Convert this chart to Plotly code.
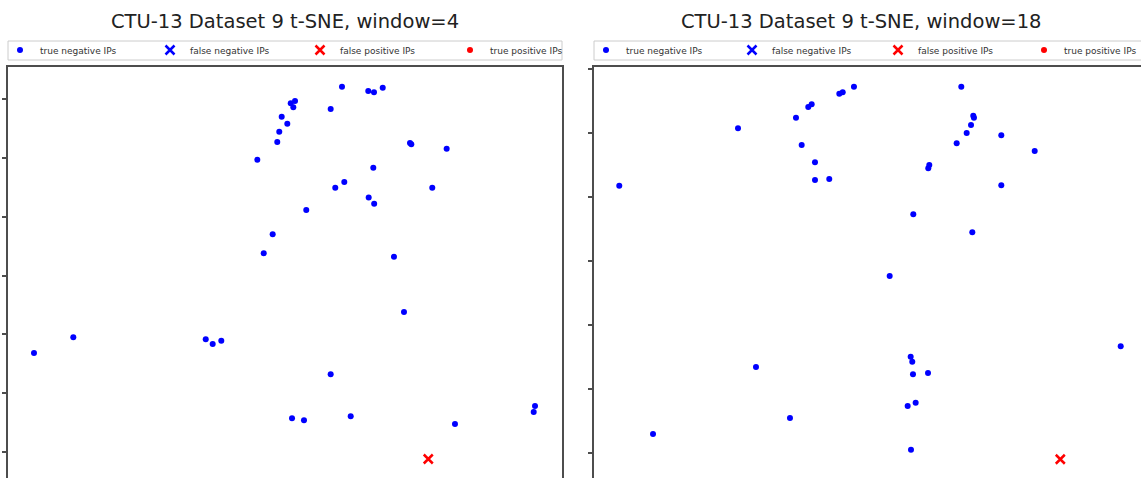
import plotly.graph_objects as go

# t-SNE embedding of the hosts, window = 4
w4_tn_x = [9.67, 14.13, 15.10, 16.58, 0.97, 1.70, 1.41, 7.75, -0.56, 0.39,
           -0.97, -1.31, 21.21, 21.43, 27.43, -4.70, 14.98, 10.06, 8.53, 24.99,
           14.20, 15.13, 3.61, -2.09, -3.61, 18.49, 20.19, -42.59, -35.92, -13.45,
           -12.27, -10.81, 7.75, 1.19, 3.22, 11.15, 28.84, 42.42, 42.20]
w4_tn_y = [32.09, 31.36, 31.14, 31.92, 29.27, 29.66, 28.59, 28.30, 26.99, 25.80,
           24.44, 22.69, 22.52, 22.30, 21.55, 19.68, 18.32, 15.89, 14.92, 14.92,
           13.26, 12.19, 11.13, 7.00, 3.77, 3.19, -6.21, -13.18, -10.51, -10.85,
           -11.65, -11.08, -16.80, -24.27, -24.62, -23.93, -25.24, -22.18, -23.20]
w4_fn_x, w4_fn_y = [], []
w4_fp_x, w4_fp_y = [24.31], [-31.19]
w4_tp_x, w4_tp_y = [], []

# t-SNE embedding of the hosts, window = 18
w18_tn_x = [-20.78, -11.72, -9.80, -9.27, -4.95, -4.42, -2.66, -10.83, -8.75, -8.75,
            -6.52, 14.11, 15.98, 16.09, 15.63, 14.95, 13.39, 9.11, 8.95, 20.36,
            25.58, 20.36, -39.33, 6.61, 15.83, 2.92, 6.20, 6.45, 6.56, 8.91,
            6.98, 5.73, 6.25, -17.97, -34.06, -12.66, 39.02]
w18_tn_y = [20.73, 22.39, 24.06, 24.48, 26.14, 26.36, 27.23, 18.13, 15.42, 12.66,
            12.81, 27.23, 22.70, 22.39, 21.25, 20.00, 18.39, 15.00, 14.48, 19.64,
            17.19, 11.83, 11.77, 7.30, 4.48, -2.34, -14.95, -15.73, -17.70, -17.50,
            -22.14, -22.66, -29.48, -16.56, -27.03, -24.53, -13.33]
w18_fn_x, w18_fn_y = [], []
w18_fp_x, w18_fp_y = [29.58], [-30.98]
w18_tp_x, w18_tp_y = [], []

series_names = ["true negative IPs", "false negative IPs",
                "false positive IPs", "true positive IPs"]
titles = ["CTU-13 Dataset 9 t-SNE, window=4", "CTU-13 Dataset 9 t-SNE, window=18"]
y_ticks = [-30, -20, -10, 0, 10, 20, 30]

W, H = 1141, 478
BLUE, RED = "#0000ff", "#ff0000"
FRAME = "#4d4d4d"

dot = lambda c: dict(symbol="circle", size=6, color=c, line=dict(width=0))
cross = lambda c: dict(symbol="x-thin", size=9, color=c, line=dict(width=2.5, color=c))
styles = [dot(BLUE), cross(BLUE), cross(RED), dot(RED)]

panels = [
    [(w4_tn_x, w4_tn_y), (w4_fn_x, w4_fn_y), (w4_fp_x, w4_fp_y), (w4_tp_x, w4_tp_y)],
    [(w18_tn_x, w18_tn_y), (w18_fn_x, w18_fn_y), (w18_fp_x, w18_fp_y), (w18_tp_x, w18_tp_y)],
]
# legend entry widths (px) per panel
entry_w = [105, 101]
last_entry_w = 78

fig = go.Figure()
for p, series in enumerate(panels):
    ax = "" if p == 0 else "2"
    for k, ((xs, ys), name, mk) in enumerate(zip(series, series_names, styles)):
        # empty categories still get a legend entry
        fig.add_trace(go.Scatter(
            x=xs or [None], y=ys or [None], mode="markers", name=name, marker=mk,
            xaxis="x" + ax, yaxis="y" + ax,
            legend="legend" if p == 0 else "legend2",
            legendwidth=last_entry_w if k == 3 else entry_w[p],
            showlegend=True, hoverinfo="skip",
        ))

# panel placement in pixels
left_px = [(8, 562), (594, 1148)]
top_px = 67
x_ranges = [[-47.0, 47.0], [-43.28, 42.19]]
y_ranges = [[-34.42, 35.44], [-33.91, 30.31]]
title_cx = [285, 861]

axis_common = dict(showgrid=False, zeroline=False, showticklabels=False)
for p in range(2):
    ax = "" if p == 0 else "2"
    x0, x1 = left_px[p]
    fig.layout["xaxis" + ax] = dict(
        axis_common, domain=[x0 / W, min(x1, W) / W], range=x_ranges[p], side="top",
        showline=True, linecolor=FRAME, linewidth=1.5, ticks="",
        anchor="y" + ax,
    )
    fig.layout["yaxis" + ax] = dict(
        axis_common, domain=[0, (H - top_px) / H], range=y_ranges[p],
        showline=True, linecolor=FRAME, linewidth=1.5,
        mirror=(p == 0), ticks="outside", ticklen=4, tickwidth=1.5, tickcolor=FRAME,
        tickvals=y_ticks, anchor="x" + ax,
    )

# legend frames spanning each panel's width
for p in range(2):
    x0, x1 = left_px[p]
    fig.add_shape(
        type="rect", xref="paper", yref="paper",
        x0=x0 / W, x1=x1 / W, y0=1 - 60 / H, y1=1 - 41 / H,
        line=dict(color="#cccccc", width=1), fillcolor="white", layer="below",
    )

legend_common = dict(
    orientation="h", xanchor="left", yanchor="top", y=1 - 35.5 / H,
    bgcolor="rgba(0,0,0,0)", borderwidth=0,
    font=dict(family="DejaVu Sans", size=9, color="#333333"),
    itemwidth=30, tracegroupgap=0,
)
fig.update_layout(
    legend=dict(legend_common, x=(left_px[0][0] - 8) / W),
    legend2=dict(legend_common, x=(left_px[1][0] - 8) / W),
)

for p in range(2):
    fig.add_annotation(
        text=titles[p], x=title_cx[p] / W, y=1 - 22 / H, xref="paper", yref="paper",
        xanchor="center", yanchor="middle", showarrow=False,
        font=dict(family="DejaVu Sans", size=19.5, color="#222222"),
    )

fig.update_layout(
    width=W, height=H, margin=dict(l=0, r=0, t=0, b=0, autoexpand=False),
    paper_bgcolor="white", plot_bgcolor="white",
    font=dict(family="DejaVu Sans"),
)

fig.write_html("out.html")
